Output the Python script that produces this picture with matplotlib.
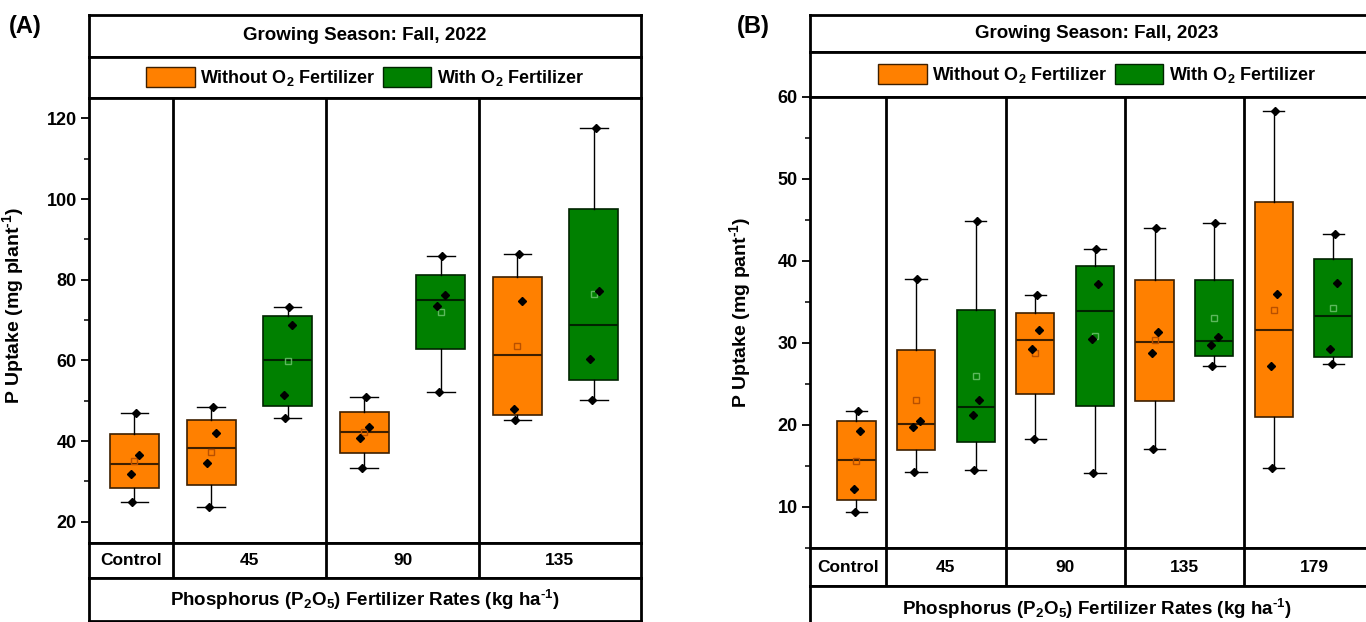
import numpy as np
import matplotlib
matplotlib.use('Agg')
import matplotlib.pyplot as plt
from matplotlib.patches import Patch
from matplotlib.ticker import MultipleLocator

plt.rcParams['font.family'] = ['Liberation Sans', 'DejaVu Sans']
plt.rcParams['font.weight'] = 'bold'
plt.rcParams['mathtext.fontset'] = 'custom'
plt.rcParams['mathtext.rm'] = 'Liberation Sans:bold'
plt.rcParams['mathtext.it'] = 'Liberation Sans:bold'
plt.rcParams['mathtext.bf'] = 'Liberation Sans:bold'

# P uptake per replicate (4 plants per treatment), mg plant-1
rates_2022 = ['Control', '45', '90', '135']
without_o2_2022 = [[24.8, 31.8, 36.6, 46.9],
                   [23.7, 34.6, 41.9, 48.5],
                   [33.4, 40.7, 43.6, 51.0],
                   [45.2, 47.9, 74.8, 86.4]]
with_o2_2022 = [None,
                [45.8, 51.5, 68.7, 73.3],
                [52.2, 73.6, 76.3, 86.0],
                [50.1, 60.4, 77.3, 117.7]]

rates_2023 = ['Control', '45', '90', '135', '179']
without_o2_2023 = [[9.35, 12.2, 19.2, 21.7],
                   [14.2, 19.7, 20.4, 37.8],
                   [18.3, 29.2, 31.5, 35.8],
                   [17.0, 28.8, 31.3, 44.0],
                   [14.7, 27.2, 35.9, 58.3]]
with_o2_2023 = [None,
                [14.5, 21.2, 23.0, 44.9],
                [14.1, 30.5, 37.2, 41.4],
                [27.1, 29.7, 30.7, 44.6],
                [27.4, 29.2, 37.3, 43.2]]

ORANGE, ORANGE_EDGE, ORANGE_MEAN = '#FF8000', '#3d1f00', '#b85000'
GREEN, GREEN_EDGE, GREEN_MEAN = '#008000', '#002400', '#5cb85c'
LW_FRAME = 2.0
INV = r'$^{\text{-}1}$'

W, H = 1366, 622
fig = plt.figure(figsize=(W / 100, H / 100), dpi=100)


def px_axes(x0, x1, y0, y1):
    # axes placed in pixel coordinates measured from the top-left corner
    a = fig.add_axes([x0 / W, 1 - y1 / H, (x1 - x0) / W, (y1 - y0) / H])
    for s in a.spines.values():
        s.set_linewidth(LW_FRAME)
    return a


def blank(a):
    a.set_xticks([])
    a.set_yticks([])


def hinge_stats(vals):
    v = np.sort(vals)
    half = len(v) // 2
    return dict(med=np.median(v), q1=np.median(v[:half]), q3=np.median(v[-half:]),
                whislo=v[0], whishi=v[-1], mean=np.mean(v), fliers=[])


jitter = np.array([-0.03, -0.05, 0.06, 0.02])


def draw_box(ax, vals, pos, fill, edge, meanc):
    ax.bxp([hinge_stats(vals)], positions=[pos], widths=0.64, patch_artist=True,
           showmeans=True, showfliers=False, capwidths=0.36, zorder=2,
           boxprops=dict(facecolor=fill, edgecolor=edge, linewidth=1.2),
           medianprops=dict(color=edge, linewidth=1.5),
           whiskerprops=dict(color='black', linewidth=1.0),
           capprops=dict(color='black', linewidth=1.0),
           meanprops=dict(marker='s', markerfacecolor='none', markeredgecolor=meanc,
                          markersize=5, markeredgewidth=1.0))
    ax.plot(pos + jitter, np.sort(vals), 'D', color='black', markersize=4.2, zorder=4)


def panel(left, right, rows, tag, tag_xy, season, rates, without, with_,
          xlim, ylim, step, minor, ylabel, ylab_xy):
    top, t_bot, l_bot, p_bot, c_bot, b_bot = rows

    # season title row
    at = px_axes(left, right, top, t_bot)
    blank(at)
    at.text(0.5, 0.5, season, ha='center', va='center', fontsize=13.5,
            fontweight='bold', transform=at.transAxes)

    # legend row
    al = px_axes(left, right, t_bot, l_bot)
    blank(al)
    handles = [Patch(facecolor=ORANGE, edgecolor=ORANGE_EDGE, linewidth=1.0),
               Patch(facecolor=GREEN, edgecolor=GREEN_EDGE, linewidth=1.0)]
    al.legend(handles, ['Without O$_2$ Fertilizer', 'With O$_2$ Fertilizer'],
              loc='center', ncol=2, frameon=False, fontsize=13,
              handlelength=2.7, handleheight=1.35, handletextpad=0.3,
              columnspacing=0.4, borderaxespad=0, borderpad=0)

    # box plots
    ax = px_axes(left, right, l_bot, p_bot)
    for i in range(len(rates)):
        if i == 0:
            draw_box(ax, without[i], 1, ORANGE, ORANGE_EDGE, ORANGE_MEAN)
        else:
            draw_box(ax, without[i], 2 * i, ORANGE, ORANGE_EDGE, ORANGE_MEAN)
            draw_box(ax, with_[i], 2 * i + 1, GREEN, GREEN_EDGE, GREEN_MEAN)
            ax.axvline(2 * i - 0.5, color='black', lw=LW_FRAME, zorder=1)
    ax.set_xlim(*xlim)
    ax.set_ylim(*ylim)
    ax.set_xticks([])
    ax.set_yticks(np.arange(step, ylim[1] + 0.01, step))
    ax.yaxis.set_minor_locator(MultipleLocator(minor))
    ax.tick_params(axis='y', which='major', direction='out', length=6, width=1.3,
                   labelsize=13, pad=3)
    ax.tick_params(axis='y', which='minor', direction='out', length=3.5, width=1.1)
    for t in ax.get_yticklabels():
        t.set_fontweight('bold')
    ax.set_ylabel(ylabel, fontsize=14, fontweight='bold')
    ax.yaxis.set_label_coords(*ylab_xy)

    # rate labels row
    ac = px_axes(left, right, p_bot, c_bot)
    blank(ac)
    ac.set_xlim(*xlim)
    edges = [xlim[0]] + [2 * i - 0.5 for i in range(1, len(rates))] + [xlim[1]]
    for i, r in enumerate(rates):
        if i > 0:
            ac.axvline(edges[i], color='black', lw=LW_FRAME)
        ac.text((edges[i] + edges[i + 1]) / 2, 0.5, r, ha='center', va='center',
                fontsize=12.5, fontweight='bold', transform=ac.get_xaxis_transform())

    # x-axis title row
    ab = px_axes(left, right, c_bot, b_bot)
    blank(ab)
    ab.text(0.5, 0.5, 'Phosphorus (P$_2$O$_5$) Fertilizer Rates (kg ha' + INV + ')',
            ha='center', va='center', fontsize=13.5, fontweight='bold',
            transform=ab.transAxes)

    fig.text(tag_xy[0] / W, 1 - tag_xy[1] / H, tag, fontsize=17, fontweight='bold',
             ha='left', va='center')


panel(89.3, 640.7, (14.7, 56.7, 98.3, 543.3, 578.3, 620.7), '(A)', (9, 27),
      'Growing Season: Fall, 2022', rates_2022, without_o2_2022, with_o2_2022,
      (0.41, 7.61), (14.65, 125.0), 20, 10,
      'P Uptake (mg plant' + INV + ')', (-0.115, 0.534))

panel(810, 1384, (14.7, 52.3, 96.7, 548.3, 586, 632), '(B)', (737, 27),
      'Growing Season: Fall, 2023', rates_2023, without_o2_2023, with_o2_2023,
      (0.22, 9.85), (4.93, 60.0), 10, 5,
      'P Uptake (mg pant' + INV + ')', (-0.100, 0.523))

fig.savefig('out.png', dpi=100)
